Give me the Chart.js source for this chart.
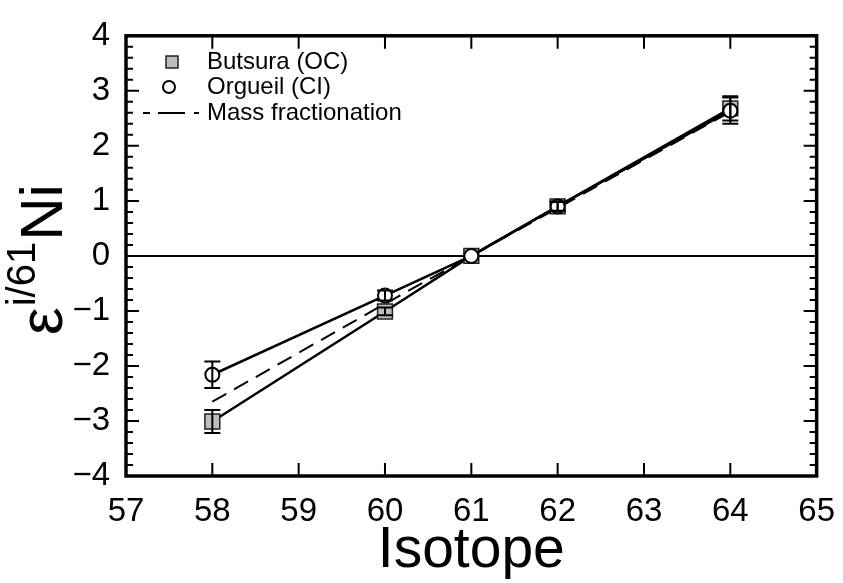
<!DOCTYPE html>
<html>
<head>
<meta charset="utf-8">
<script src="https://cdn.jsdelivr.net/npm/chart.js@4/dist/chart.umd.min.js"></script>
<style>
  html, body { margin: 0; padding: 0; background: #fff; }
</style>
</head>
<body>
<canvas id="niChart" width="843" height="583"></canvas>
<script>
// values
const isotopes = [58, 60, 61, 62, 64];
const butsura = [-3.01, -1.01, 0, 0.90, 2.68];
const butsuraErr = [0.21, 0.07, 0, 0.09, 0.22];
const orgueil = [-2.16, -0.72, 0, 0.90, 2.64];
const orgueilErr = [0.24, 0.09, 0, 0.08, 0.24];
const massFrac = [-2.65, -0.87, 0, 0.87, 2.62];
const seriesNames = ['Butsura (OC)', 'Orgueil (CI)', 'Mass fractionation'];
const xTicks = [57, 58, 59, 60, 61, 62, 63, 64, 65];
const yTicks = [-4, -3, -2, -1, 0, 1, 2, 3, 4];

const FONT = "'Liberation Sans', Arial, Helvetica, sans-serif";

function toPoints(ys) {
    return isotopes.map((x, i) => ({ x: x, y: ys[i] }));
}

// frame with inward ticks on all four sides
const framePlugin = {
    id: 'frame',
    afterDraw(chart) {
        const { ctx, chartArea: a, scales } = chart;
        ctx.save();
        ctx.strokeStyle = '#000';
        ctx.lineWidth = 2;
        xTicks.forEach(v => {
            const px = scales.x.getPixelForValue(v);
            ctx.beginPath();
            ctx.moveTo(px, a.bottom); ctx.lineTo(px, a.bottom - 13);
            ctx.moveTo(px, a.top); ctx.lineTo(px, a.top + 13);
            ctx.stroke();
        });
        for (let k = -20; k <= 20; k++) {
            const v = k / 5;
            const py = scales.y.getPixelForValue(v);
            const len = k % 5 === 0 ? 13 : 7;
            ctx.beginPath();
            ctx.moveTo(a.left, py); ctx.lineTo(a.left + len, py);
            ctx.moveTo(a.right, py); ctx.lineTo(a.right - len, py);
            ctx.stroke();
        }
        ctx.lineWidth = 3.5;
        ctx.strokeRect(a.left, a.top, a.right - a.left, a.bottom - a.top);
        ctx.restore();
    }
};

// vertical error bars with caps
const errorBarPlugin = {
    id: 'errorBars',
    afterDatasetsDraw(chart) {
        const { ctx, scales } = chart;
        const sets = [[butsura, butsuraErr], [orgueil, orgueilErr]];
        ctx.save();
        ctx.strokeStyle = '#000';
        ctx.lineWidth = 2;
        sets.forEach(([vals, errs]) => {
            isotopes.forEach((x, i) => {
                if (!errs[i]) return;
                const px = scales.x.getPixelForValue(x);
                const top = scales.y.getPixelForValue(vals[i] + errs[i]);
                const bot = scales.y.getPixelForValue(vals[i] - errs[i]);
                ctx.beginPath();
                ctx.moveTo(px, top); ctx.lineTo(px, bot);
                ctx.moveTo(px - 8, top); ctx.lineTo(px + 8, top);
                ctx.moveTo(px - 8, bot); ctx.lineTo(px + 8, bot);
                ctx.stroke();
            });
        });
        ctx.restore();
    }
};

// legend inside the plot, top left
const insideLegend = {
    id: 'insideLegend',
    afterDraw(chart) {
        const { ctx } = chart;
        const rows = [62, 87, 113];
        ctx.save();
        ctx.font = '24px ' + FONT;
        ctx.fillStyle = '#000';
        ctx.textBaseline = 'middle';
        chart.data.datasets.forEach((ds, i) => {
            ctx.fillText(ds.label, 207, rows[i]);
        });
        ctx.fillStyle = '#bdbdbd';
        ctx.strokeStyle = '#222';
        ctx.lineWidth = 1.5;
        ctx.fillRect(166, 56, 12, 12);
        ctx.strokeRect(166, 56, 12, 12);
        ctx.beginPath();
        ctx.arc(169, rows[1], 6, 0, Math.PI * 2);
        ctx.fillStyle = '#fff';
        ctx.fill();
        ctx.strokeStyle = '#000';
        ctx.lineWidth = 2;
        ctx.stroke();
        ctx.setLineDash([7, 8, 27, 9]);
        ctx.beginPath();
        ctx.moveTo(143, rows[2]); ctx.lineTo(199, rows[2]);
        ctx.stroke();
        ctx.restore();
    }
};

// rotated y title with superscript
const yTitle = {
    id: 'yTitle',
    afterDraw(chart) {
        const { ctx } = chart;
        ctx.save();
        ctx.translate(62, 335);
        ctx.rotate(-Math.PI / 2);
        ctx.fillStyle = '#000';
        ctx.textBaseline = 'alphabetic';
        let x = 0;
        ctx.font = '62px ' + FONT;
        ctx.fillText('\u03B5', x, 0);
        x += ctx.measureText('\u03B5').width + 1;
        ctx.font = '40px ' + FONT;
        ctx.fillText('i/61', x, -27);
        x += ctx.measureText('i/61').width + 1;
        ctx.font = '60px ' + FONT;
        ctx.fillText('Ni', x, 0);
        ctx.restore();
    }
};

const ctx = document.getElementById('niChart').getContext('2d');

const niChart = new Chart(ctx, {
    type: 'line',
    data: {
        datasets: [
            {
                label: seriesNames[0],
                data: toPoints(butsura),
                borderColor: '#000',
                borderWidth: 2.5,
                pointStyle: 'rect',
                pointRadius: 10.5,
                pointBackgroundColor: '#bdbdbd',
                pointBorderColor: '#222',
                pointBorderWidth: 1.5,
                order: 2
            },
            {
                label: seriesNames[1],
                data: toPoints(orgueil),
                borderColor: '#000',
                borderWidth: 2.5,
                pointStyle: 'circle',
                pointRadius: 7,
                pointBackgroundColor: '#fff',
                pointBorderColor: '#000',
                pointBorderWidth: 2,
                order: 1
            },
            {
                label: seriesNames[2],
                data: toPoints(massFrac),
                borderColor: '#000',
                borderWidth: 2,
                borderDash: [16, 9],
                pointRadius: 0,
                order: 3
            }
        ]
    },
    options: {
        responsive: false,
        animation: false,
        devicePixelRatio: 1,
        layout: { padding: { top: 23, right: 20, bottom: 0, left: 0 } },
        plugins: {
            legend: { display: false },
            tooltip: { enabled: false }
        },
        scales: {
            x: {
                type: 'linear',
                min: 57,
                max: 65,
                afterFit: s => { s.height = 107; },
                afterBuildTicks: s => { s.ticks = xTicks.map(v => ({ value: v })); },
                grid: { display: false },
                border: { display: false },
                ticks: {
                    color: '#000',
                    padding: 8,
                    maxRotation: 0,
                    font: { family: FONT, size: 33 }
                },
                title: {
                    display: true,
                    text: 'Isotope',
                    color: '#000',
                    padding: { top: 0, bottom: -2 },
                    font: { family: FONT, size: 57 }
                }
            },
            y: {
                type: 'linear',
                min: -4,
                max: 4,
                afterFit: s => { s.width = 126; },
                afterBuildTicks: s => { s.ticks = yTicks.map(v => ({ value: v })); },
                grid: {
                    drawTicks: false,
                    lineWidth: 2,
                    color: c => (c.tick && c.tick.value === 0) ? '#000' : 'rgba(0,0,0,0)'
                },
                border: { display: false },
                ticks: {
                    color: '#000',
                    padding: 16,
                    font: { family: FONT, size: 33 },
                    callback: v => v < 0 ? '\u2212' + Math.abs(v) : String(v)
                }
            }
        }
    },
    plugins: [framePlugin, errorBarPlugin, insideLegend, yTitle]
});
</script>
</body>
</html>
